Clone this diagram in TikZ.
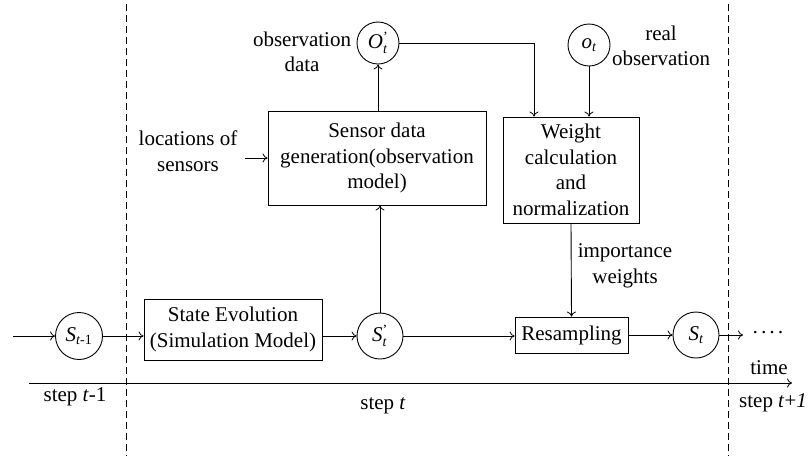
\documentclass[tikz,border=0pt]{standalone}
\usepackage{fontspec}
\setmainfont{Liberation Serif}
\usetikzlibrary{arrows.meta}

% small text used for sub- and superscripts of the state symbols
\newcommand\subtx[1]{\mbox{\fontsize{14}{14}\selectfont #1}}

\begin{document}
\begin{tikzpicture}[x=1pt,y=-1pt,
  every node/.style={font=\fontsize{21}{25.5}\selectfont},
  box/.style={draw,line width=0.9pt,align=center,inner sep=0pt},
  circ/.style={draw,circle,line width=0.9pt,inner sep=0pt,minimum size=#1},
  lbl/.style={align=center,inner sep=0pt},
  link/.style={line width=0.9pt,-{To[length=5pt,width=9pt,line width=0.8pt]}},
  sep/.style={line width=0.9pt,dash pattern=on 7pt off 4pt}]

\path[use as bounding box] (0,0) rectangle (809,456);

% time step separators
\coordinate (d1a) at (126,4);  \coordinate (d1b) at (126,456);
\coordinate (d2a) at (728,4);  \coordinate (d2b) at (728,456);
\draw[sep] (d1a) -- (d1b);
\draw[sep] (d2a) -- (d2b);

% states and processing blocks
\node[circ=47] (Sprev) at (79,336) {\textit{S}$_{\subtx{\itshape t\upshape -1}}$};
\node[box,minimum width=178pt,minimum height=61pt] (SE) at (233,329.5)
  {State Evolution\\(Simulation Model)};
\node[circ=46] (Sp) at (380,336) {\textit{S}$^{\subtx{’}}_{\subtx{\itshape t}}$};
\node[box,minimum width=218pt,minimum height=94pt] (SD) at (377,158)
  {Sensor data\\generation(observation\\model)};
\node[circ=42] (Op) at (378,43) {\textit{O}$^{\subtx{’}}_{\subtx{\itshape t}}$};
\node[circ=42] (ot) at (589,45) {\textit{o}$_{\subtx{\itshape t}}$};
\node[box,minimum width=136pt,minimum height=106pt] (WC) at (571,170)
  {Weight\\calculation\\and\\normalization};
\node[box,minimum width=113pt,minimum height=36pt] (RS) at (571.5,335) {Resampling};
\node[circ=46] (St) at (696,335) {\textit{S}$_{\subtx{\itshape t}}$};

% free ends
\coordinate (in) at (13,336);
\coordinate (out) at (743,335);
\coordinate (loc) at (245,158);
\coordinate (t0) at (29,383);
\coordinate (t1) at (792,383);

% labels
\node[lbl] (obsl) at (302,52) {observation\\data};
\node[lbl] (reall) at (661,46) {real\\observation};
\node[lbl] (locl) at (188,151) {locations of\\sensors};
\node[lbl] (impl) at (625,266) {importance\\weights};
\node[lbl] (dots) at (768,335) {·\hspace{1.5pt}·\hspace{1.5pt}·\hspace{1.5pt}·};
\node[lbl] (timel) at (769,368) {time};
\node[lbl] (s1) at (75,397) {step \textit{t}-1};
\node[lbl] (s2) at (383,406) {step \textit{t}};
\node[lbl] (s3) at (773,403) {step \textit{t}+\textit{1}};

% connectors
\draw[link] (in) -- (Sprev.west);
\draw[link] (Sprev.east) -- (Sprev.east -| SE.west);
\draw[link] (Sp.west -| SE.east) -- (Sp.west);
\draw[link] (Sp.north) -- (Sp.north |- SD.south);
\draw[link] (SD.north -| Op.south) -- (Op.south);
\draw[link] (loc) -- (loc -| SD.west);
\draw[link] (Op.east) -| ([xshift=-37pt]WC.north);
\draw[link] (ot.south) -- (ot.south |- WC.north);
\draw[link] (WC.south) -- (RS.north);
\draw[link] (Sp.east) -- (Sp.east -| RS.west);
\draw[link] (RS.east) -- (St.west);
\draw[link] (St.east) -- (out);
\draw[link] (t0) -- (t1);

\end{tikzpicture}
\end{document}
